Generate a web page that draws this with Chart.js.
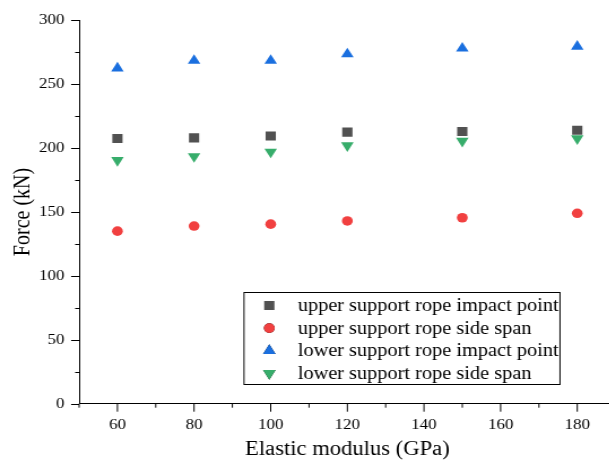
<!DOCTYPE html>
<html><head><meta charset="utf-8">
<script src="https://cdn.jsdelivr.net/npm/chart.js@4/dist/chart.umd.min.js"></script>
<style>
html,body{margin:0;padding:0;overflow:hidden;background:#fff;width:609px;height:462px;}
#c{display:block;transform:scaleX(1.1303);transform-origin:0 0;}
</style></head>
<body><canvas id="c" width="551" height="462"></canvas>
<script>
const modulus = [60, 80, 100, 120, 150, 180];
const upperImpact = [207.5, 208, 209.5, 212.5, 213, 214];
const upperSide = [135, 139, 140.5, 143, 145.5, 149];
const lowerImpact = [262.5, 268.5, 268.5, 273.5, 278, 279.5];
const lowerSide = [190.5, 193.5, 197, 202, 205.5, 207.5];
const seriesNames = ['upper support rope impact point','upper support rope side span','lower support rope impact point','lower support rope side span'];
const xTitle = 'Elastic modulus (GPa)';
const yTitle = 'Force (kN)';

const FONT = "'Liberation Serif', 'Times New Roman', serif";
const S = 1.1303; // horizontal stretch of the picture
const toPts = arr => modulus.map((x,i)=>({x, y: arr[i]}));

const minorTicks = {
  id:'minorTicks',
  afterDraw(chart){
    const ctx = chart.ctx, xs = chart.scales.x, ys = chart.scales.y;
    ctx.save(); ctx.strokeStyle='#000'; ctx.lineWidth=1;
    for (let v=50; v<=190; v+=10){
      const x = xs.getPixelForValue(v);
      const len = v%20===0 ? 8 : 4;
      ctx.beginPath(); ctx.moveTo(x, ys.bottom); ctx.lineTo(x, ys.bottom+len); ctx.stroke();
    }
    for (let v=0; v<=300; v+=25){
      const y = Math.round(ys.getPixelForValue(v))+0.5;
      const len = (v%50===0 ? 8 : 4)/S;
      ctx.beginPath(); ctx.moveTo(xs.left, y); ctx.lineTo(xs.left-len, y); ctx.stroke();
    }
    ctx.restore();
  }
};

const boxLegend = {
  id:'boxLegend',
  afterDraw(chart){
    const ctx = chart.ctx;
    const L=244/S, T=292, R=560/S, B=384;
    ctx.save();
    ctx.fillStyle='#fff'; ctx.fillRect(L,T,R-L,B-T);
    ctx.strokeStyle='#000'; ctx.lineWidth=1;
    ctx.strokeRect(L,T+0.5,R-L,B-T);
    ctx.font = "18px " + FONT;
    ctx.textBaseline='middle'; ctx.textAlign='left';
    chart.data.datasets.forEach((ds,i)=>{
      const y = 305.5 + i*22.6;
      Chart.helpers.drawPoint(ctx, {pointStyle: ds.pointStyle, radius: ds.pointRadius, rotation: ds.rotation||0, borderWidth:0}, 269.3/S, y);
      ctx.fillStyle = ds.backgroundColor; ctx.fill();
      ctx.fillStyle='#000';
      ctx.fillText(ds.label, 297.7/S, y+1);
    });
    ctx.restore();
  }
};

new Chart(document.getElementById('c'), {
  type:'scatter',
  data:{datasets:[
    {label:seriesNames[0], data:toPts(upperImpact), pointStyle:'rect', pointRadius:6.4, backgroundColor:'#515151', borderWidth:0},
    {label:seriesNames[1], data:toPts(upperSide), pointStyle:'circle', pointRadius:4.8, backgroundColor:'#F14040', borderWidth:0},
    {label:seriesNames[2], data:toPts(lowerImpact), pointStyle:'triangle', pointRadius:6.4, backgroundColor:'#1A6FDF', borderWidth:0},
    {label:seriesNames[3], data:toPts(lowerSide), pointStyle:'triangle', rotation:180, pointRadius:6.4, backgroundColor:'#37AD6B', borderWidth:0}
  ]},
  options:{
    responsive:false, maintainAspectRatio:false, animation:false, devicePixelRatio:1,
    layout:{padding:{top:20.3, right:0, bottom:0, left:0}},
    plugins:{legend:{display:false}, tooltip:{enabled:false}},
    elements:{point:{hoverRadius:0}},
    scales:{
      x:{type:'linear', min:50, max:190,
        ticks:{stepSize:10, autoSkip:false, maxRotation:0, color:'#000', padding:4,
          font:{family:FONT, size:15}, callback:v=> v%20===0 ? String(v) : ''},
        grid:{drawOnChartArea:false, drawTicks:true, tickLength:8, tickColor:'transparent'},
        border:{display:true, color:'#000', width:1},
        title:{display:true, text:xTitle, color:'#000', font:{family:FONT, size:20}, padding:{top:0,bottom:0}},
        afterFit(s){ s.height = 58.3; }
      },
      y:{type:'linear', min:0, max:300,
        ticks:{stepSize:25, autoSkip:false, color:'#000', padding:6,
          font:{family:FONT, size:15}, callback:v=> v%50===0 ? String(v) : ''},
        grid:{drawOnChartArea:false, drawTicks:true, tickLength:7, tickColor:'transparent'},
        border:{display:true, color:'#000', width:1},
        title:{display:true, text:yTitle, color:'#000', font:{family:FONT, size:20}, padding:{top:8.5,bottom:0}},
        afterFit(s){ s.width = 70; }
      }
    }
  },
  plugins:[minorTicks, boxLegend]
});
</script></body></html>
